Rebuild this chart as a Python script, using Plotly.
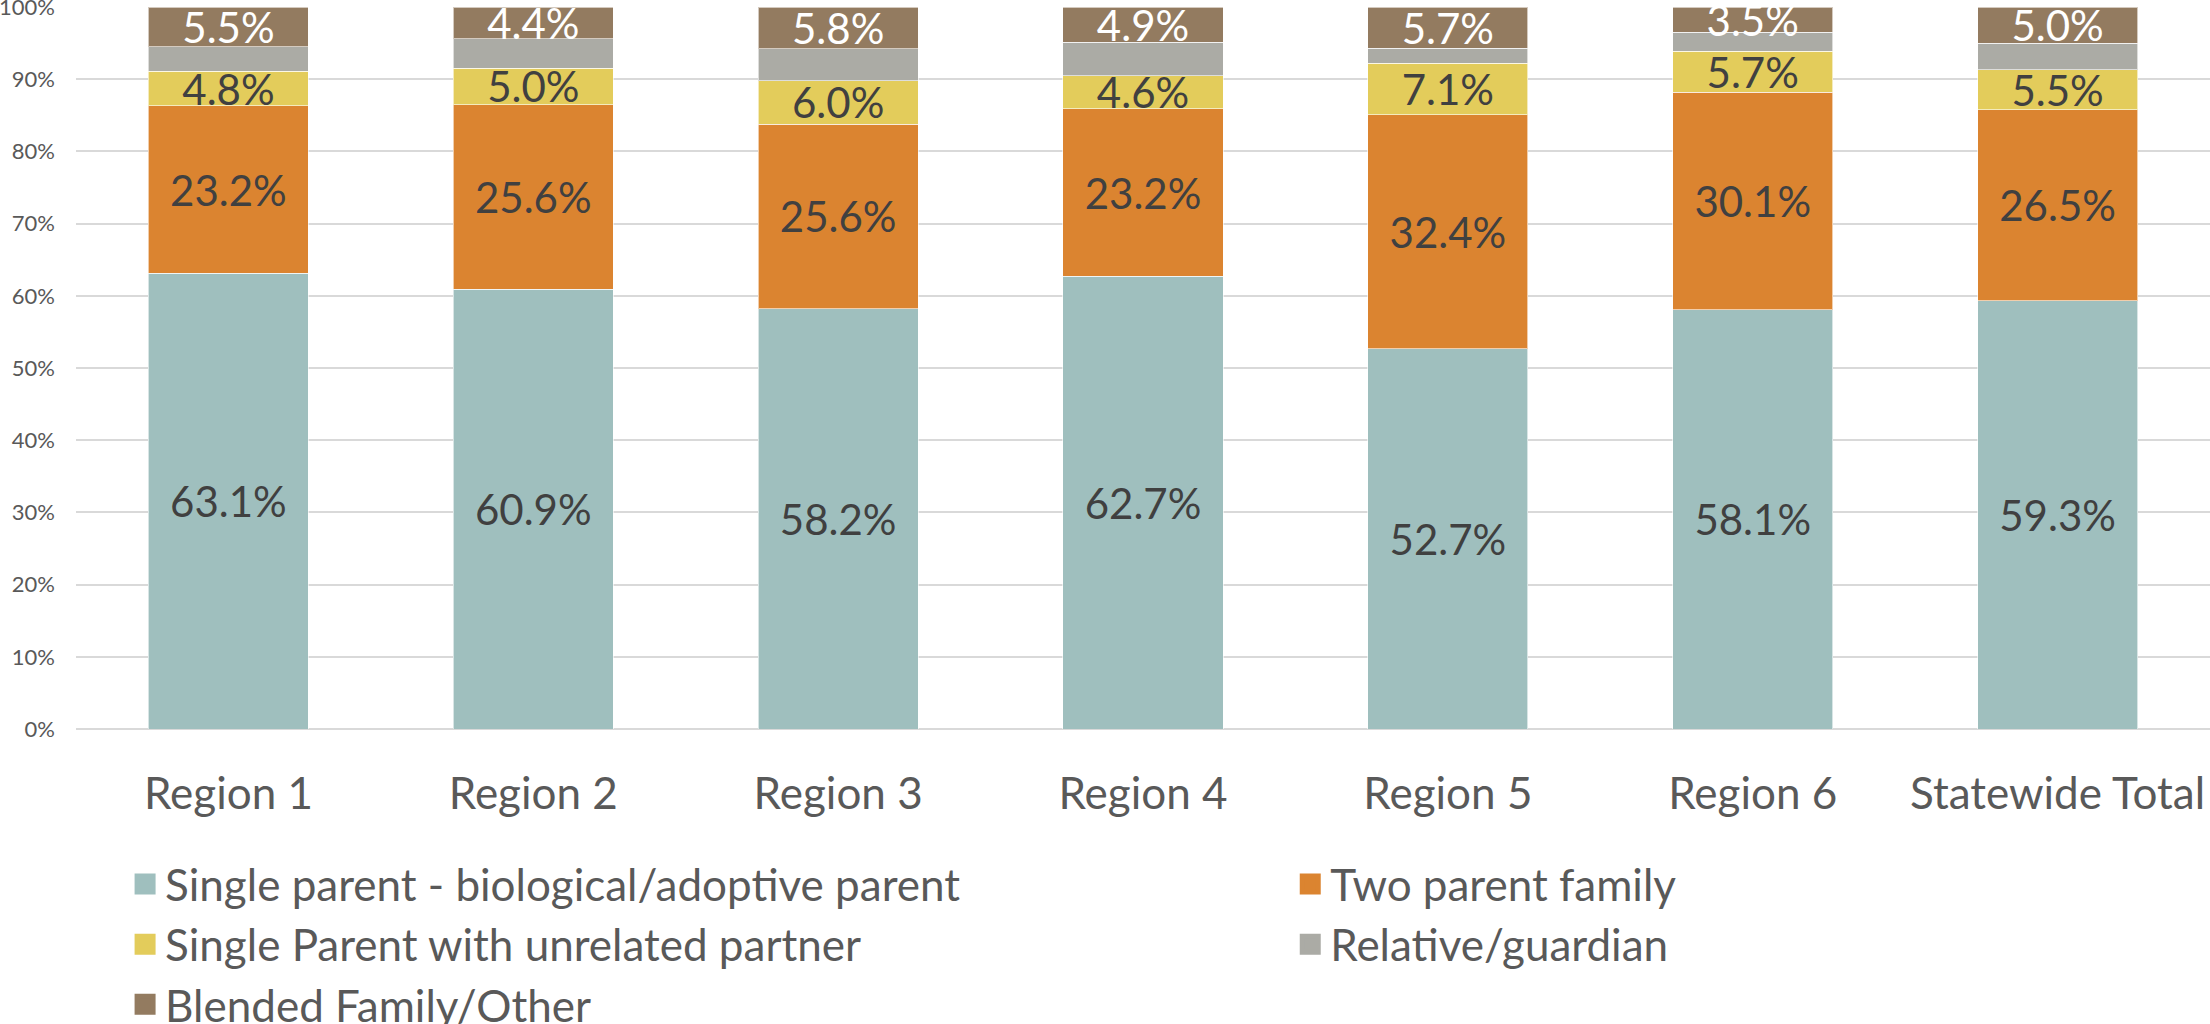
import plotly.graph_objects as go

categories = ["Region 1", "Region 2", "Region 3", "Region 4", "Region 5", "Region 6", "Statewide Total"]
single_bio = [63.1, 60.9, 58.2, 62.7, 52.7, 58.1, 59.3]
two_parent = [23.2, 25.6, 25.6, 23.2, 32.4, 30.1, 26.5]
single_partner = [4.8, 5.0, 6.0, 4.6, 7.1, 5.7, 5.5]
relative = [3.4, 4.1, 4.4, 4.6, 2.1, 2.6, 3.7]
blended = [5.5, 4.4, 5.8, 4.9, 5.7, 3.5, 5.0]
y_ticks = [0, 10, 20, 30, 40, 50, 60, 70, 80, 90, 100]
y_tick_labels = [f"{t}%" for t in y_ticks]

series = [
    ("Single parent - biological/adoptive parent", single_bio, "#9FBFBE", "#404040", True, "legend"),
    ("Two parent family", two_parent, "#DB8430", "#404040", True, "legend2"),
    ("Single Parent with unrelated partner", single_partner, "#E3CC5B", "#404040", True, "legend"),
    ("Relative/guardian", relative, "#ABABA5", "#404040", False, "legend2"),
    ("Blended Family/Other", blended, "#937B60", "#FFFFFF", True, "legend"),
]

FONT = "Lato, Calibri, sans-serif"

fig = go.Figure()
for name, vals, color, tcolor, show_text, lg in series:
    fig.add_trace(go.Bar(
        name=name,
        x=categories,
        y=vals,
        marker=dict(color=color, line=dict(color="rgba(255,255,255,0.6)", width=1)),
        text=[f"{v:.1f}%" for v in vals] if show_text else None,
        textposition="inside" if show_text else "none",
        insidetextanchor="middle",
        textangle=0,
        constraintext="none",
        textfont=dict(family=FONT, size=42, color=tcolor),
        showlegend=False,
        hoverinfo="skip",
    ))

# legend entries (square swatches)
for name, vals, color, tcolor, show_text, lg in series:
    fig.add_trace(go.Scatter(
        name=name,
        x=[categories[0]],
        y=[None],
        mode="markers",
        marker=dict(symbol="square", size=16, color=color, line=dict(color=color, width=5)),
        legend=lg,
        showlegend=True,
        hoverinfo="skip",
    ))

fig.update_layout(
    width=2210,
    height=1024,
    barmode="stack",
    bargap=0.475,
    plot_bgcolor="white",
    paper_bgcolor="white",
    margin=dict(l=76, r=0, t=7, b=295, autoexpand=False),
    font=dict(family=FONT, color="#595959"),
    legend=dict(
        orientation="v", x=0.023, xanchor="left", y=-0.166, yanchor="top",
        font=dict(family=FONT, size=44, color="#595959"),
        tracegroupgap=0, traceorder="normal", bgcolor="rgba(0,0,0,0)",
        itemsizing="trace",
    ),
    legend2=dict(
        orientation="v", x=0.569, xanchor="left", y=-0.166, yanchor="top",
        font=dict(family=FONT, size=44, color="#595959"),
        tracegroupgap=0, traceorder="normal", bgcolor="rgba(0,0,0,0)",
        itemsizing="trace",
    ),
    xaxis=dict(
        range=[-0.5, 6.5],
        showgrid=False,
        showline=False,
        zeroline=False,
        ticks="",
        automargin=False,
        ticklabelstandoff=35,
        ticklabeloverflow="allow",
        tickfont=dict(family=FONT, size=44, color="#595959"),
    ),
    yaxis=dict(
        range=[0, 100.01],
        tickmode="array",
        tickvals=y_ticks,
        ticktext=y_tick_labels,
        showgrid=True,
        gridcolor="#D9D9D9",
        gridwidth=2,
        zeroline=True,
        zerolinecolor="#D9D9D9",
        zerolinewidth=2,
        showline=False,
        ticks="",
        automargin=False,
        ticklabelstandoff=20,
        ticklabeloverflow="allow",
        tickfont=dict(family=FONT, size=22, color="#595959"),
    ),
)

fig.write_html(
    "out.html",
    config={"displayModeBar": False},
    post_script="document.body.style.margin='0';document.body.style.padding='0';",
)
